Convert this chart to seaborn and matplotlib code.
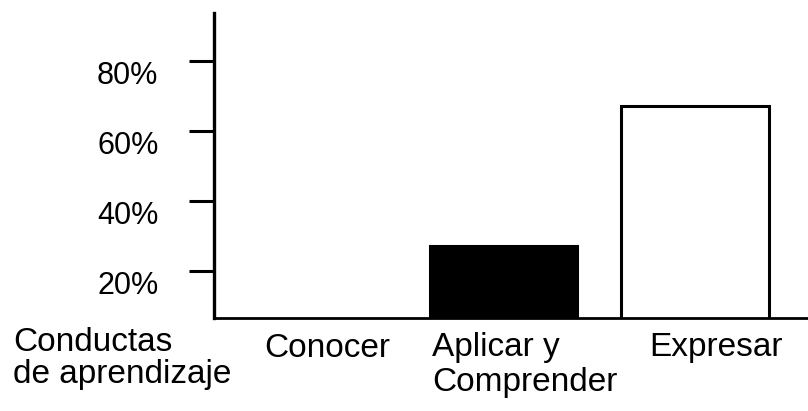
import matplotlib
matplotlib.use("Agg")
import matplotlib.pyplot as plt
import matplotlib.transforms as mtransforms
import seaborn as sns

categories = ["Conocer", "Aplicar y\nComprender", "Expresar"]
values = [0, 27, 67]
bar_colors = ["white", "black", "white"]
ytick_values = [20, 40, 60, 80]
ytick_labels = ["20%", "40%", "60%", "80%"]

sns.set_style("white")
plt.rcParams["font.family"] = ["Liberation Sans", "DejaVu Sans"]
plt.rcParams["text.color"] = "black"

W, H = 808, 411
fig = plt.figure(figsize=(W / 100, H / 100), dpi=100)
ax = fig.add_axes([214 / W, 1 - 318 / H, 1 - 214 / W, (318 - 13) / H])

sns.barplot(x=categories, y=values, hue=categories, palette=bar_colors,
            edgecolor="black", linewidth=2.2, width=0.77, legend=False, ax=ax)

ax.set_xlim(-0.512, 2.59)
ax.set_ylim(6.57, 93.7)
ax.set_yticks(ytick_values)
ax.set_yticklabels(ytick_labels, fontsize=22, color="black")
ax.tick_params(axis="y", direction="out", length=18, width=2.2, pad=22, left=True,
               colors="black")
# labels in the original sit a bit below their ticks
shift = mtransforms.ScaledTranslation(0, -12 / 100, fig.dpi_scale_trans)
for lab in ax.get_yticklabels():
    lab.set_transform(lab.get_transform() + shift)
ax.set_xticks([])
ax.set_xlabel("")
ax.set_ylabel("")

for side in ["top", "right"]:
    ax.spines[side].set_visible(False)
ax.spines["left"].set_linewidth(2.4)
ax.spines["bottom"].set_linewidth(2.0)
ax.spines["left"].set_color("black")
ax.spines["bottom"].set_color("black")

# category labels under the bars (positions in pixels from top-left)
def px_text(x, y, s, ha="left"):
    fig.text(x / W, 1 - y / H, s, ha=ha, va="baseline", fontsize=24)

px_text(13, 351, "Conductas")
px_text(13, 383, "de aprendizaje")
px_text(327, 357, categories[0], ha="center")
line1, line2 = categories[1].split("\n")
px_text(432, 356, line1)
px_text(432, 391, line2)
px_text(716, 356, categories[2], ha="center")

fig.savefig("out.png", dpi=100)
